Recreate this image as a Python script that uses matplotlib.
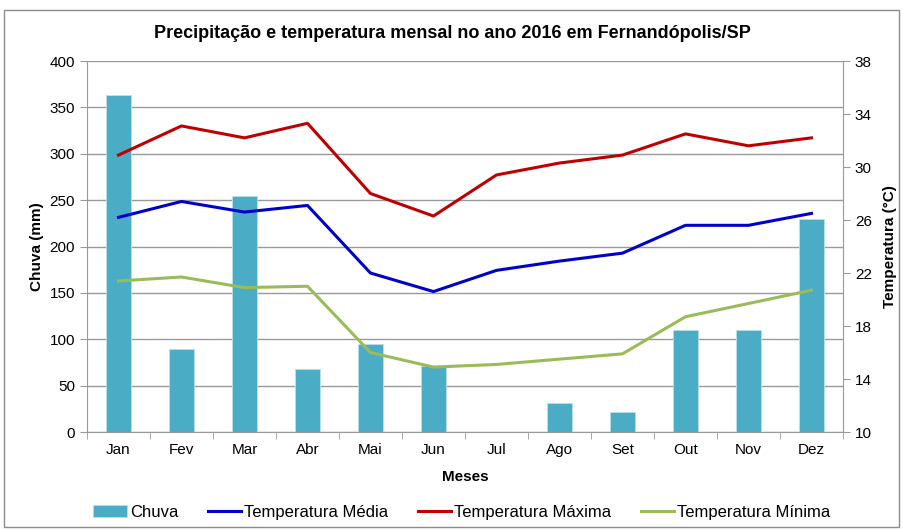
import numpy as np
import matplotlib.pyplot as plt
from matplotlib.patches import Rectangle

plt.rcParams['font.family'] = ['Liberation Sans', 'DejaVu Sans']

# dados mensais
meses = ["Jan", "Fev", "Mar", "Abr", "Mai", "Jun", "Jul", "Ago", "Set", "Out", "Nov", "Dez"]
chuva = [363, 90, 254, 68, 95, 71, 0, 31, 22, 110, 110, 230]
temp_media = [26.2, 27.4, 26.6, 27.1, 22.0, 20.6, 22.2, 22.9, 23.5, 25.6, 25.6, 26.5]
temp_max = [30.9, 33.1, 32.2, 33.3, 28.0, 26.3, 29.4, 30.3, 30.9, 32.5, 31.6, 32.2]
temp_min = [21.4, 21.7, 20.9, 21.0, 16.0, 14.9, 15.1, 15.5, 15.9, 18.7, 19.7, 20.7]

grid_cor = "#9a9a9a"
x = np.arange(len(meses))

fig = plt.figure(figsize=(9.04, 5.31), dpi=100)
ax = fig.add_axes([0.0962, 0.1864, 0.8363, 0.6987])

# barras de chuva
ax.bar(x, chuva, width=0.4, color="#4BACC6", edgecolor="#b8e0ea", linewidth=0.6,
       label="Chuva", zorder=2)
ax.set_xlim(-0.5, 11.5)
ax.set_ylim(0, 400)
ax.set_yticks(range(0, 401, 50))
ax.yaxis.grid(True, color=grid_cor, linewidth=1.0, zorder=0)
ax.set_axisbelow(True)
ax.set_xticks(x)
ax.set_xticklabels(meses, fontsize=11)
ax.set_xticks(np.arange(-0.5, 12, 1), minor=True)
ax.tick_params(axis="x", which="major", length=0, pad=8)
ax.tick_params(axis="x", which="minor", length=5, color=grid_cor, direction="out")
ax.tick_params(axis="y", length=5, color=grid_cor, labelsize=11)
ax.set_ylabel("Chuva (mm)", fontsize=11, fontweight="bold", labelpad=4)
ax.set_xlabel("Meses", fontsize=11, fontweight="bold", labelpad=9)
for s in ["top", "right"]:
    ax.spines[s].set_visible(False)
for s in ["left", "bottom"]:
    ax.spines[s].set_color(grid_cor)

# temperaturas no eixo secundario
ax2 = ax.twinx()
ax2.plot(x, temp_media, color="#0000CC", linewidth=2.2, label="Temperatura Média", zorder=3)
ax2.plot(x, temp_max, color="#C00000", linewidth=2.2, label="Temperatura Máxima", zorder=3)
ax2.plot(x, temp_min, color="#9BBB59", linewidth=2.2, label="Temperatura Mínima", zorder=3)
ax2.set_ylim(10, 38)
ax2.set_yticks(range(10, 39, 4))
ax2.tick_params(axis="y", length=5, color=grid_cor, labelsize=11)
ax2.set_ylabel("Temperatura (°C)", fontsize=11, fontweight="bold", labelpad=8)
for s in ["top", "left", "bottom"]:
    ax2.spines[s].set_visible(False)
ax2.spines["right"].set_color(grid_cor)

fig.text(0.5, 0.937, "Precipitação e temperatura mensal no ano 2016 em Fernandópolis/SP",
         ha="center", va="center", fontsize=13, fontweight="bold")

h1, l1 = ax.get_legend_handles_labels()
h2, l2 = ax2.get_legend_handles_labels()
fig.legend(h1 + h2, l1 + l2, loc="center", bbox_to_anchor=(0.511, 0.035), ncol=4,
           frameon=False, fontsize=12, handlelength=2.0, handletextpad=0.2,
           columnspacing=1.75)

# moldura externa
fig.patches.append(Rectangle((0.0045, 0.008), 0.99, 0.974, transform=fig.transFigure,
                             fill=False, edgecolor="#8c8c8c", linewidth=1.0))

fig.savefig("out.png", dpi=100)
